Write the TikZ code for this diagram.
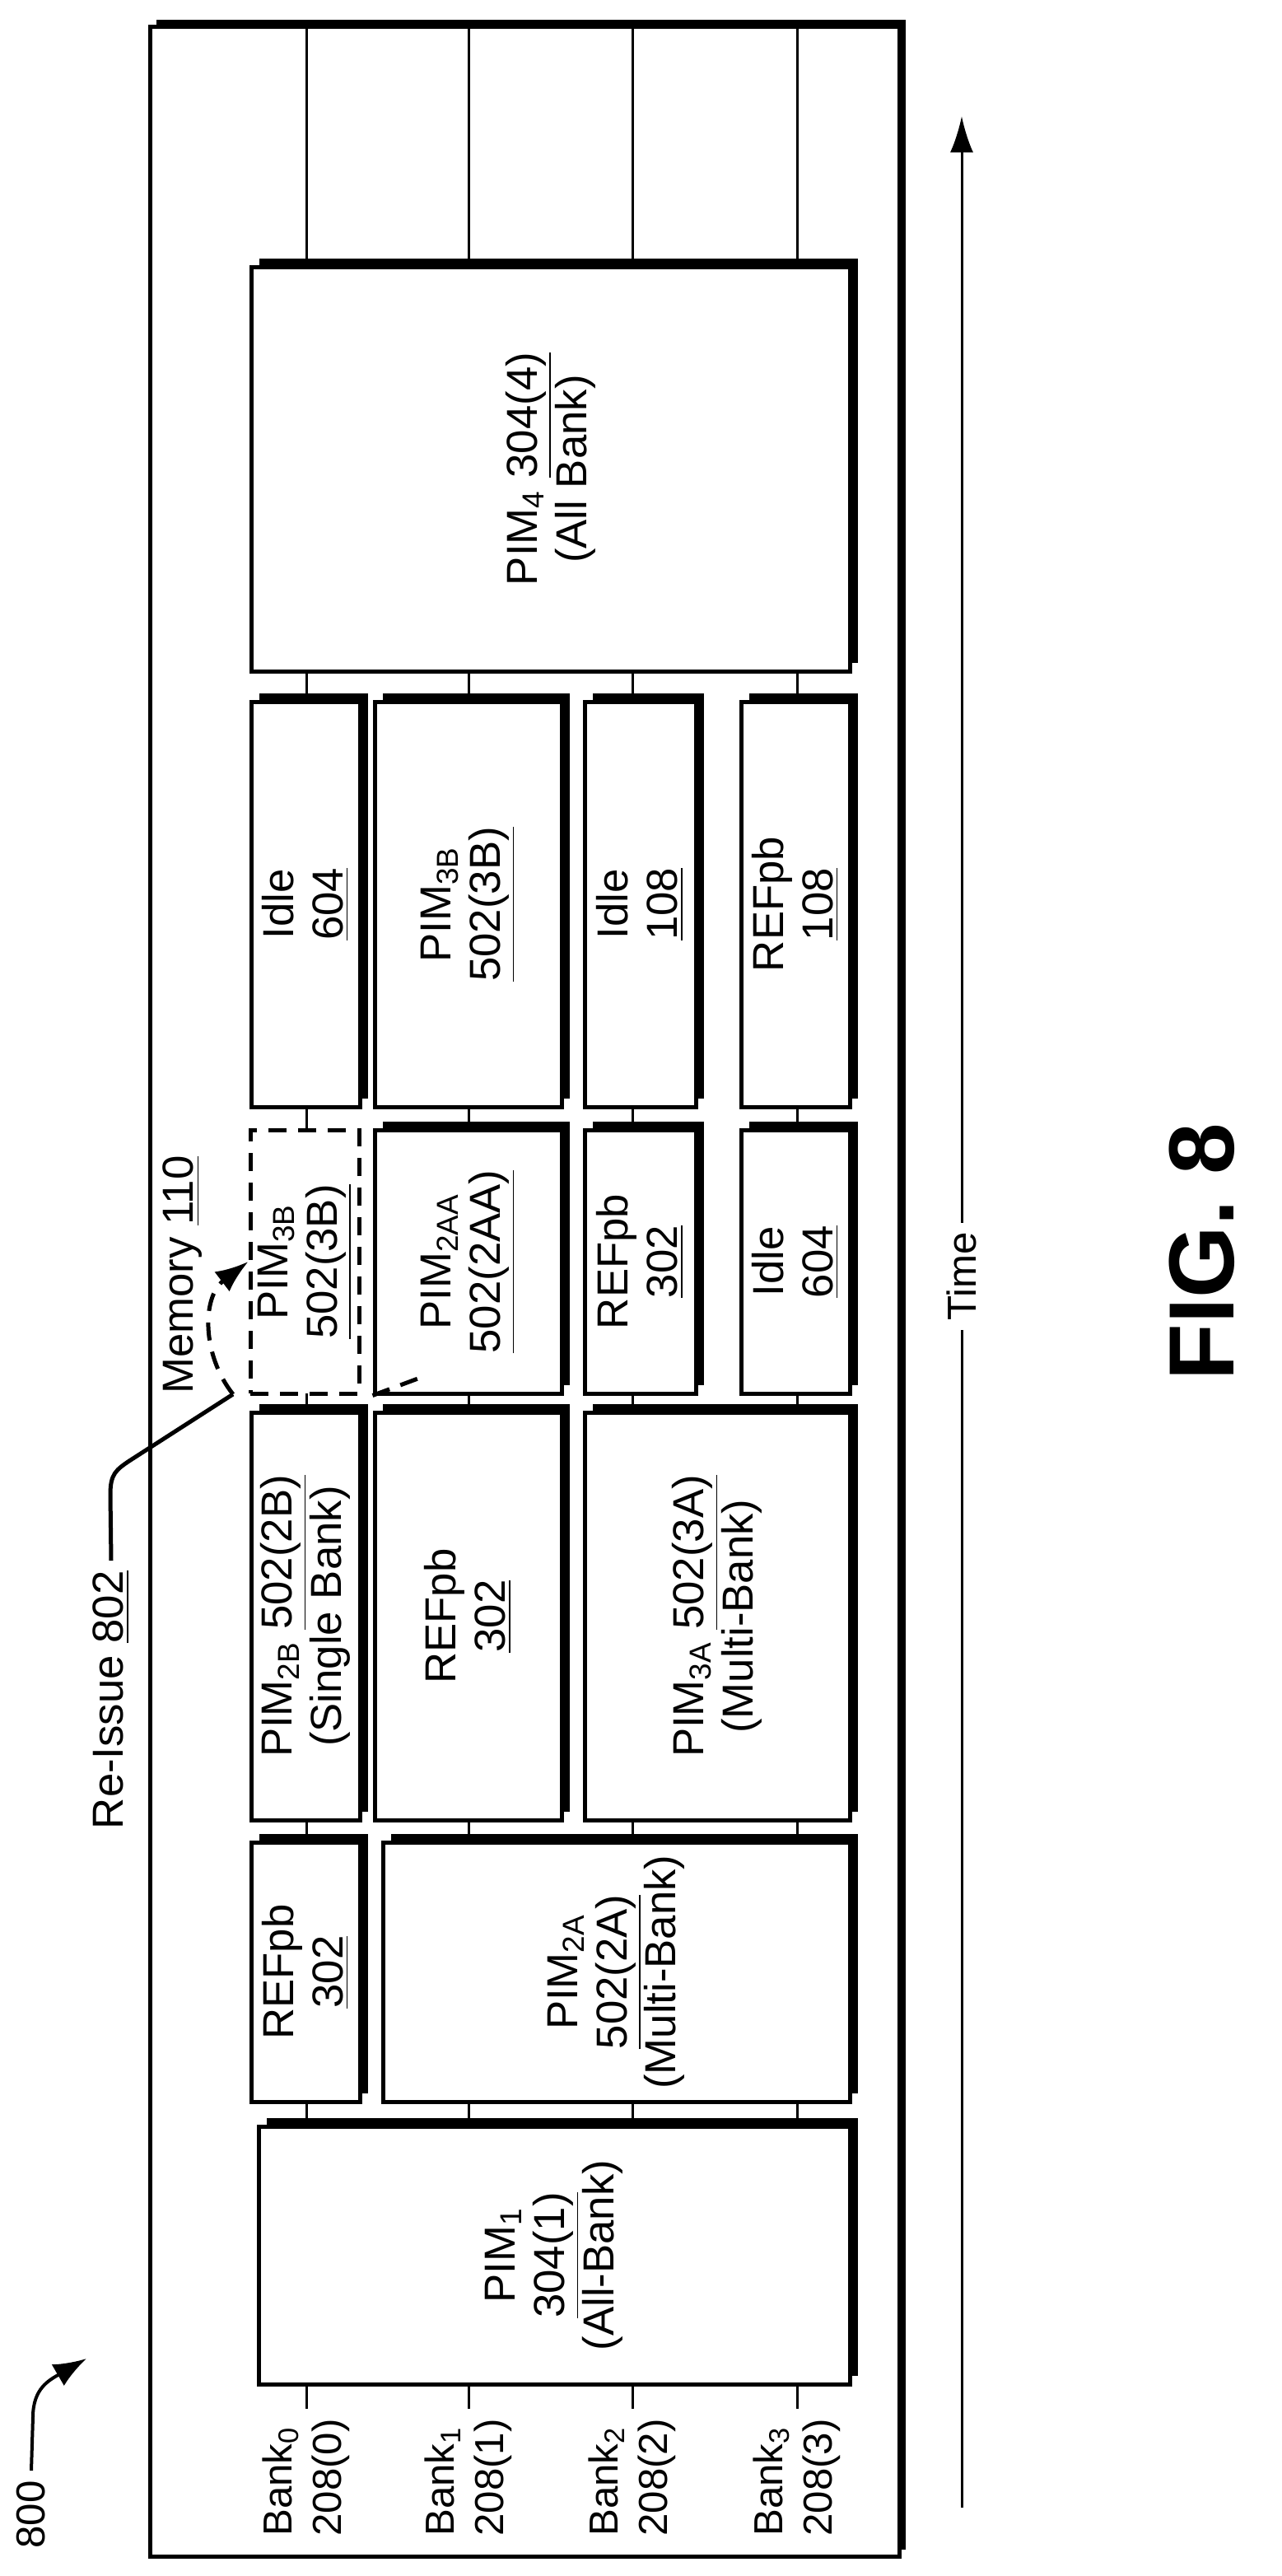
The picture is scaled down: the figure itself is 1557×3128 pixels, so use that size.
\documentclass[tikz,border=0pt]{standalone}
\usepackage{fontspec}
\setmainfont{Liberation Sans}
\usetikzlibrary{arrows.meta,shadows,positioning,calc}

\begin{document}
\begin{tikzpicture}[x=0.1mm,y=-0.1mm,
    blk/.style={draw, line width=0.5mm, fill=white, inner sep=0pt,
        drop shadow={shadow xshift=1mm, shadow yshift=1mm, fill=black, opacity=1}},
    ghost/.style={draw, fill=white, line width=0.5mm, dashed, dash pattern=on 2.2mm off 1.4mm, inner sep=0pt},
    txt/.style={rotate=90, align=center, font=\fontsize{15}{17}\selectfont},
    bnk/.style={rotate=90, align=left, font=\fontsize{14}{17}\selectfont},
    arr/.style={-{Latex[length=4mm,width=3mm]}, line width=0.5mm}]
    \useasboundingbox (0,0) rectangle (1557,3128);

    % Memory frame
    \draw[line width=0.5mm, fill=white, drop shadow={shadow xshift=0.8mm, shadow yshift=0.8mm, fill=black, opacity=1}] (182,32) rectangle (1092,3104);

    % Bank lanes
    \foreach \i/\x in {0/372,1/569,2/768,3/968} {
        \coordinate (top\i) at (\x,32);
        \node[bnk, anchor=west] (bank\i) at (\x,3092) {Bank\textsubscript{\i}\\208(\i)};
        \draw[line width=0.3mm] (bank\i.east) -- (top\i);
    }

    % Last row
    \node[blk, minimum width=72.7mm, minimum height=49.1mm] (pim4) at (668.5,569.5) {};
    \node[txt] at (pim4) {PIM\textsubscript{4} \underline{304(4)}\\(All Bank)};

    % Row B
    \node[blk, minimum width=13.2mm, minimum height=49.2mm] (idle0) at (371,1098) {};
    \node[txt] at (idle0) {Idle\\\underline{604}};
    \node[blk, minimum width=22.7mm, minimum height=49.2mm] (pim3b) at (568.5,1098) {};
    \node[txt] at (pim3b) {PIM\textsubscript{3B}\\\underline{502(3B)}};
    \node[blk, minimum width=13.5mm, minimum height=49.2mm] (idle2) at (777.5,1098) {};
    \node[txt] at (idle2) {Idle\\\underline{108}};
    \node[blk, minimum width=13.2mm, minimum height=49.2mm] (ref3) at (966,1098) {};
    \node[txt] at (ref3) {REFpb\\\underline{108}};

    % Row C
    \node[ghost, minimum width=13.2mm, minimum height=32mm] (pim3bd) at (370,1532) {};
    \node[txt] at (pim3bd) {PIM\textsubscript{3B}\\\underline{502(3B)}};
    \node[blk, minimum width=22.7mm, minimum height=32mm] (pim2aa) at (568.5,1532) {};
    \node[txt] at (pim2aa) {PIM\textsubscript{2AA}\\\underline{502(2AA)}};
    \node[blk, minimum width=13.5mm, minimum height=32mm] (ref2) at (777.5,1532) {};
    \node[txt] at (ref2) {REFpb\\\underline{302}};
    \node[blk, minimum width=13.2mm, minimum height=32mm] (idle3) at (966,1532) {};
    \node[txt] at (idle3) {Idle\\\underline{604}};

    % Row D
    \node[blk, minimum width=13.2mm, minimum height=49.5mm] (pim2b) at (371,1962.5) {};
    \node[txt] at (pim2b) {PIM\textsubscript{2B} \underline{502(2B)}\\(Single Bank)};
    \node[blk, minimum width=22.7mm, minimum height=49.5mm] (ref1) at (568.5,1962.5) {};
    \node[txt] at (ref1) {REFpb\\\underline{302}};
    \node[blk, minimum width=32.2mm, minimum height=49.5mm] (pim3a) at (871,1962.5) {};
    \node[txt] at (pim3a) {PIM\textsubscript{3A} \underline{502(3A)}\\(Multi-Bank)};

    % Row E
    \node[blk, minimum width=13.2mm, minimum height=31.5mm] (ref0) at (371,2394.5) {};
    \node[txt] at (ref0) {REFpb\\\underline{302}};
    \node[blk, minimum width=56.7mm, minimum height=31.5mm] (pim2a) at (748.5,2394.5) {};
    \node[txt] at (pim2a) {PIM\textsubscript{2A}\\\underline{502(2A)}\\(Multi-Bank)};

    % First row
    \node[blk, minimum width=71.8mm, minimum height=31.3mm] (pim1) at (673,2738.5) {};
    \node[txt] at (pim1) {PIM\textsubscript{1}\\\underline{304(1)}\\(All-Bank)};

    % Re-issue
    \node[txt, anchor=west] (mem) at (222,1705) {Memory \underline{110}};
    \node[txt, anchor=east] (reis) at (135,1895) {Re-Issue \underline{802}};
    \coordinate (bend) at (283,1693);
    \draw[line width=0.5mm] (reis.east) -- (134,1815) .. controls (134,1790) and (140,1785) .. (160,1772) -- (bend);
    \draw[arr, dashed, dash pattern=on 2.2mm off 1.4mm] (bend) .. controls (245,1645) and (245,1575) .. (pim3bd.west);
    \draw[line width=0.5mm, dashed, dash pattern=on 2.2mm off 1.4mm] (pim2aa.south west) -- ++(67,-25);

    % Time axis
    \coordinate (t0) at (1168,3045);
    \coordinate (t1) at (1168,141);
    \draw[-{Latex[length=4.4mm,width=2.8mm]}, line width=0.3mm] (t0) -- (t1);
    \node[rotate=90, fill=white, font=\fontsize{14}{17}\selectfont] (time) at (1168,1550) {Time};

    % Labels
    \node[rotate=90, font=\fontsize{32}{36}\selectfont\bfseries] (fig) at (1460,1520) {FIG. 8};
    \node[rotate=90, anchor=east, font=\fontsize{14}{17}\selectfont] (num) at (38,3000) {800};
    \coordinate (numtip) at (105,2864);
    \draw[arr, line width=0.4mm] (num.east) -- (40,2935) .. controls (40,2900) and (60,2890) .. (numtip);
\end{tikzpicture}
\end{document}
